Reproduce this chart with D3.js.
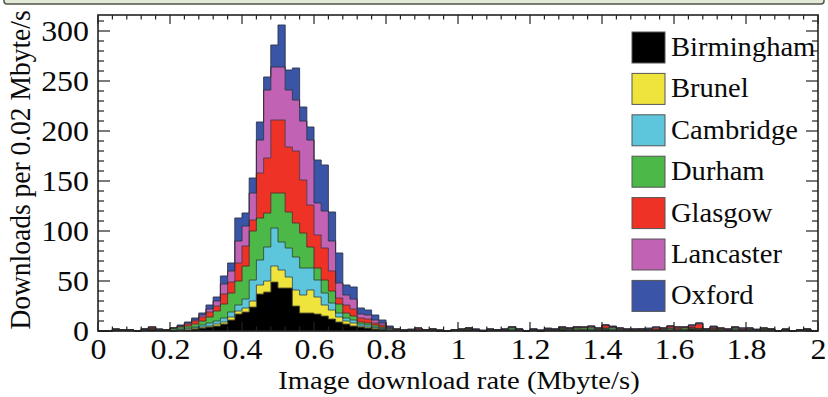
<!DOCTYPE html>
<html>
<head>
<meta charset="utf-8">
<script src="https://cdn.jsdelivr.net/npm/d3@7"></script>
<style>
  html, body { margin: 0; padding: 0; background: #ffffff; }
  svg { display: block; }
  text { font-family: "Liberation Serif", "Times New Roman", serif; fill: #0a0a0a; }
</style>
</head>
<body>
<svg id="chart" width="828" height="397"></svg>
<script>
// Histogram of image download rates, 0.02 Mbyte/s bins from 0 to 2, stacked by site.
const binWidth = 0.02;
const sites = ["Birmingham", "Brunel", "Cambridge", "Durham", "Glasgow", "Lancaster", "Oxford"];
const siteColors = ["#000000", "#efe43c", "#5ec6dc", "#4cb848", "#ee3326", "#c262b4", "#3a55a8"];

// Counts per bin (100 bins) for each site.
const birmingham = [0,0,1,1,1,0,1,2,1,1, 0,1,1,2,3,4,5,7,11,17, 19,24,37,39,49,43,43,25,18,18, 17,15,12,9,7,5,4,3,2,2, 1,1,0,1,1,1,1,0,0,1, 1,2,1,0,1,1,1,1,1,0, 1,0,1,1,2,1,1,1,1,1, 2,1,1,1,1,1,1,1,1,1, 1,1,2,2,1,1,1,1,1,1, 1,1,1,1,0,1,0,1,1,0];
const brunel     = [0,0,0,0,0,0,0,0,0,0, 0,0,1,1,1,1,2,2,3,3, 4,6,9,11,16,18,11,16,18,23, 17,11,9,5,3,3,1,1,1,0, 0,0,0,0,0,0,0,0,0,0, 0,0,0,0,0,0,0,0,0,0, 0,0,0,0,0,0,1,0,0,0, 0,0,0,0,0,0,0,0,0,1, 0,0,1,0,0,1,0,0,0,0, 0,0,0,0,0,0,0,0,0,0];
const cambridge  = [0,0,0,0,0,0,0,0,0,0, 1,1,1,1,2,3,3,4,5,6, 9,21,25,34,38,28,29,33,27,22, 17,12,7,4,3,3,2,2,1,1, 1,0,0,0,0,0,0,0,0,0, 0,0,0,0,0,0,0,1,0,0, 0,0,0,0,0,1,0,0,1,0, 0,1,0,0,0,0,0,0,0,0, 1,0,0,0,0,0,0,0,1,0, 0,0,0,0,0,0,0,0,0,0];
const durham     = [0,0,0,0,0,0,1,0,0,0, 2,2,2,3,4,6,10,14,19,24, 33,49,42,34,35,49,36,34,35,21, 12,13,12,9,5,4,2,2,2,1, 1,0,1,0,0,0,1,0,0,0, 0,1,0,0,0,0,0,2,1,0, 0,0,1,0,1,0,2,2,2,1, 1,2,1,0,0,1,0,0,1,1, 0,2,0,0,1,0,1,0,1,0, 1,0,1,1,0,0,0,0,1,0];
const glasgow    = [0,0,1,0,0,0,0,2,0,0, 0,1,2,3,4,5,5,10,11,18, 20,11,45,55,73,73,65,72,53,42, 33,32,20,6,8,7,4,4,2,2, 0,1,0,0,2,0,0,1,0,0, 1,0,0,0,1,0,1,0,0,0, 1,0,0,1,1,1,0,1,0,1, 3,0,1,1,1,0,1,2,1,2, 2,1,2,5,0,2,1,1,1,1, 1,0,1,0,0,1,0,0,0,0];
const lancaster  = [0,0,0,0,0,0,0,0,1,0, 0,0,1,1,2,3,5,10,11,22, 20,27,33,68,53,53,57,51,59,65, 32,37,30,15,10,10,4,4,3,2, 1,0,0,0,0,0,0,0,0,0, 0,0,1,0,0,0,0,0,0,0, 0,1,0,0,0,0,0,0,1,0, 0,0,0,0,0,0,0,1,0,0, 0,0,1,1,0,0,0,0,0,1, 0,0,0,0,0,0,0,0,0,0];
const oxford     = [0,0,0,0,0,0,0,0,0,0, 0,1,1,2,2,4,4,8,8,23, 13,15,18,13,22,42,20,32,14,13, 43,46,29,30,10,12,6,5,5,3, 1,0,0,1,0,0,0,0,0,0, 0,0,0,1,0,0,0,0,0,0, 0,0,1,0,0,0,0,0,0,0, 0,1,0,0,0,0,1,0,0,0, 0,0,0,0,0,1,0,0,0,0, 0,1,0,0,0,0,0,0,0,0];

const xTicks = [0, 0.2, 0.4, 0.6, 0.8, 1, 1.2, 1.4, 1.6, 1.8, 2];
const yTicks = [0, 50, 100, 150, 200, 250, 300];
const xTitle = "Image download rate (Mbyte/s)";
const yTitle = "Downloads per 0.02 Mbyte/s";

const seriesValues = [birmingham, brunel, cambridge, durham, glasgow, lancaster, oxford];

// One record per bin, keyed by site name, for d3.stack.
const bins = d3.range(birmingham.length).map(i => {
  const row = { x0: i * binWidth };
  sites.forEach((s, k) => { row[s] = seriesValues[k][i]; });
  return row;
});

const svg = d3.select("#chart");
const frame = { left: 98, right: 818, top: 15, bottom: 331 };

// Header strip along the top edge.
svg.append("rect")
  .attr("x", 4).attr("y", -12).attr("width", 820).attr("height", 16)
  .attr("rx", 3)
  .attr("fill", "#e2ead7").attr("stroke", "#4e554a").attr("stroke-width", 1.5);

const x = d3.scaleLinear().domain([0, 2]).range([frame.left, frame.right]);
const y = d3.scaleLinear().domain([0, 316]).range([frame.bottom, frame.top]);

const stacked = d3.stack().keys(sites)(bins);

// Step outlines need one extra point at the right edge of the last bin.
const stepPoints = layer => {
  const pts = layer.map((d, i) => ({ x: bins[i].x0, y0: d[0], y1: d[1] }));
  const last = pts[pts.length - 1];
  pts.push({ x: last.x + binWidth, y0: last.y0, y1: last.y1 });
  return pts;
};

const area = d3.area()
  .curve(d3.curveStepAfter)
  .x(d => x(d.x)).y0(d => y(d.y0)).y1(d => y(d.y1));
const topLine = d3.line()
  .curve(d3.curveStepAfter)
  .x(d => x(d.x)).y(d => y(d.y1));

const plot = svg.append("g");
stacked.forEach((layer, k) => {
  plot.append("path")
    .attr("d", area(stepPoints(layer)))
    .attr("fill", siteColors[k])
    .attr("stroke", siteColors[k]).attr("stroke-width", 0.4);
});
stacked.forEach((layer, k) => {
  plot.append("path")
    .attr("d", topLine(stepPoints(layer)))
    .attr("fill", "none")
    .attr("stroke", "#2a2a2a").attr("stroke-width", 0.9).attr("stroke-opacity", 0.75);
});

// Frame with ticks on all four sides, pointing inward.
const axisColor = "#222";
const minorX = d3.range(0, 2.0001, 0.04);
const minorY = d3.range(0, 316, 10);

// Tick labels are drawn slightly wide.
const stretch = 1.1;

const bottomAxis = d3.axisBottom(x).tickValues(xTicks).tickSize(0).tickPadding(7)
  .tickFormat(d => d3.format("~g")(d));
const gx = svg.append("g").attr("transform", `translate(0,${frame.bottom})`).call(bottomAxis);
gx.select(".domain").remove();
gx.selectAll("text").attr("font-size", 29).attr("dy", "0.71em").attr("fill", "#0a0a0a")
  .attr("font-family", "Liberation Serif, serif")
  .attr("transform", `scale(${stretch},1)`)
  .attr("x", 0);

const leftAxis = d3.axisLeft(y).tickValues(yTicks).tickSize(0).tickPadding(9);
const gy = svg.append("g").attr("transform", `translate(${frame.left},0)`).call(leftAxis);
gy.select(".domain").remove();
gy.selectAll("text").attr("font-size", 29).attr("fill", "#0a0a0a")
  .attr("font-family", "Liberation Serif, serif")
  .attr("transform", `scale(${stretch},1)`)
  .attr("x", -9 / stretch);

const ticks = svg.append("g").attr("stroke", axisColor).attr("stroke-width", 1.2);
minorX.forEach(v => {
  const major = xTicks.some(t => Math.abs(t - v) < 1e-6);
  const len = major ? 9 : 4.5;
  ticks.append("line").attr("x1", x(v)).attr("x2", x(v))
    .attr("y1", frame.bottom).attr("y2", frame.bottom - len);
  ticks.append("line").attr("x1", x(v)).attr("x2", x(v))
    .attr("y1", frame.top).attr("y2", frame.top + len);
});
minorY.forEach(v => {
  const major = yTicks.includes(v);
  const len = major ? 12 : 6;
  ticks.append("line").attr("y1", y(v)).attr("y2", y(v))
    .attr("x1", frame.left).attr("x2", frame.left + len);
  ticks.append("line").attr("y1", y(v)).attr("y2", y(v))
    .attr("x1", frame.right).attr("x2", frame.right - len);
});

svg.append("rect")
  .attr("x", frame.left).attr("y", frame.top)
  .attr("width", frame.right - frame.left).attr("height", frame.bottom - frame.top)
  .attr("fill", "none").attr("stroke", axisColor).attr("stroke-width", 1.6);

// Axis titles.
svg.append("text")
  .attr("transform", `translate(459,389) scale(${stretch},1)`)
  .attr("text-anchor", "middle").attr("font-size", 26)
  .text(xTitle);
svg.append("text")
  .attr("transform", "translate(30,170) rotate(-90) scale(1,1.06)")
  .attr("text-anchor", "middle").attr("font-size", 27.5)
  .text(yTitle);

// Legend.
const legend = svg.append("g");
sites.forEach((s, k) => {
  const top = 32 + k * 41.4;
  legend.append("rect")
    .attr("x", 632).attr("y", top).attr("width", 33).attr("height", 31)
    .attr("fill", siteColors[k]).attr("stroke", "#555").attr("stroke-width", 1);
  legend.append("text")
    .attr("transform", `translate(671,${top + 24}) scale(1.02,1)`)
    .attr("font-size", 28)
    .text(s);
});
</script>
</body>
</html>
